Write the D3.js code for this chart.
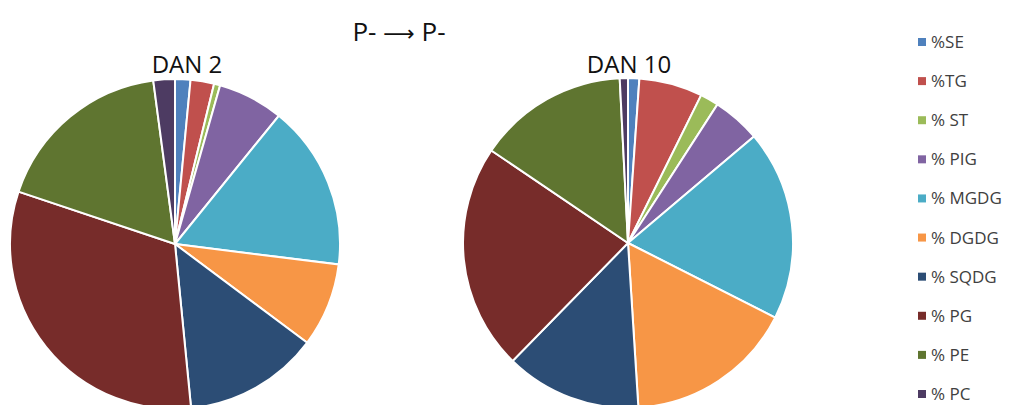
<!DOCTYPE html>
<meta charset="utf-8">
<script src="https://d3js.org/d3.v7.min.js"></script>
<style>
  body { margin: 0; background: #fff; }
  text { font-family: "Open Sans", "Liberation Sans", sans-serif; }
</style>
<svg id="chart" width="1016" height="405"></svg>
<script>
// categories and values (percent)
const categories = ["%SE", "%TG", "% ST", "% PIG", "% MGDG", "% DGDG", "% SQDG", "% PG", "% PE", "% PC"];
const dan2 = [1.5, 2.3, 0.6, 6.4, 16.1, 8.2, 13.2, 31.6, 17.7, 2.1];
const dan10 = [1.1, 6.2, 1.8, 4.7, 18.6, 16.5, 13.3, 22.1, 14.7, 0.8];
const colors = ["#4F81BD", "#C0504D", "#9BBB59", "#8064A2", "#4BACC6",
                "#F79646", "#2C4D75", "#772C2A", "#5F7530", "#4D3B62"];

const svg = d3.select("#chart");

const color = d3.scaleOrdinal().domain(categories).range(colors);

const pie = d3.pie().sort(null).value(d => d.v);
const radius = 165;
const arc = d3.arc().innerRadius(0).outerRadius(radius);

// title
const title = svg.append("text")
  .attr("x", 399).attr("y", 41)
  .attr("text-anchor", "middle")
  .style("font-size", "26px")
  .attr("fill", "#111");
title.append("tspan").text("P- ");
title.append("tspan").style("font-family", "DejaVu Sans").style("font-size", "22px").text("\u27F6");
title.append("tspan").text(" P-");

function drawPie(values, cx, cy, label, lx) {
  const g = svg.append("g").attr("transform", `translate(${cx},${cy})`);
  const data = categories.map((c, i) => ({ c: c, v: values[i] }));
  g.selectAll("path")
    .data(pie(data))
    .join("path")
    .attr("d", arc)
    .attr("fill", d => color(d.data.c))
    .attr("stroke", "#fff")
    .attr("stroke-width", 2);
  svg.append("text")
    .attr("x", lx).attr("y", 73)
    .attr("text-anchor", "middle")
    .style("font-size", "24px")
    .attr("fill", "#111")
    .text(label);
}

drawPie(dan2, 175, 244, "DAN 2", 187);
drawPie(dan10, 628, 243, "DAN 10", 629);

// legend
const legendY = d3.scalePoint().domain(categories).range([42, 394]);
const legend = svg.append("g");
const item = legend.selectAll("g")
  .data(categories)
  .join("g")
  .attr("transform", d => `translate(918,${legendY(d)})`);
item.append("rect")
  .attr("x", 0).attr("y", -4)
  .attr("width", 8).attr("height", 8)
  .attr("fill", d => color(d));
item.append("text")
  .attr("x", 13).attr("y", 6)
  .style("font-size", "17px")
  .attr("fill", "#404040")
  .text(d => d);
</script>
